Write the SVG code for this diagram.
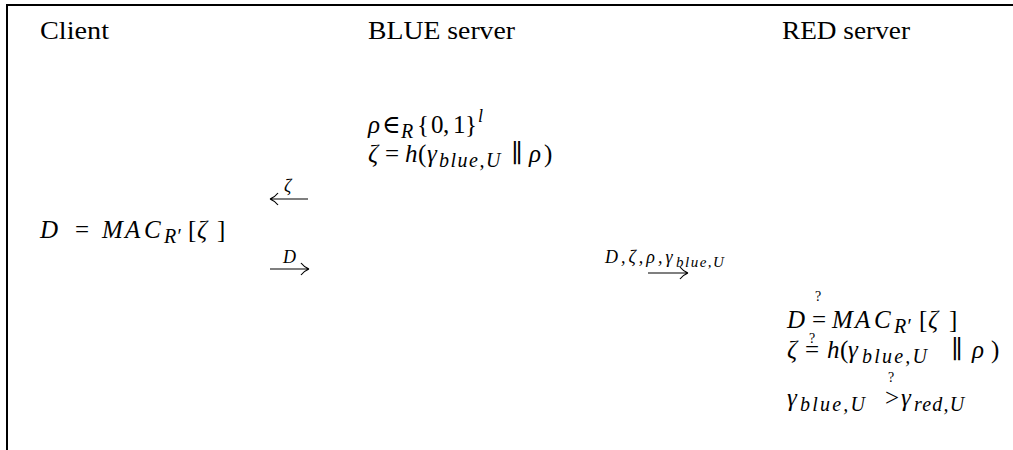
<svg xmlns="http://www.w3.org/2000/svg" width="1013" height="450" viewBox="0 0 1013 450">
<style>
text{font-family:"Liberation Serif","DejaVu Serif",serif;fill:#000}
.hd{font-size:25px}
.m{font-size:25px}
.i{font-style:italic}
.s{font-size:20px}
.l{font-size:18px}
.ss{font-size:15px}
.q{font-size:14px;font-style:normal}
.ln{stroke:#000;stroke-width:1.2;fill:none}
.fr{stroke:#000;stroke-width:2;fill:none}
</style>
<rect width="1013" height="450" fill="#fff"/>
<path class="fr" d="M7 450 V5 H1013"/>
<g id="client">
<text class="hd" x="40" y="39" textLength="69" lengthAdjust="spacingAndGlyphs">Client</text>
<text class="m"><tspan class="i" x="40" y="238">D</tspan><tspan x="75" y="238">=</tspan><tspan class="i" x="102" y="238">M</tspan><tspan class="i" x="125" y="238">A</tspan><tspan class="i" x="144" y="238">C</tspan><tspan class="s i" x="164" y="243">R′</tspan><tspan x="188" y="238">[</tspan><tspan class="i" x="197" y="238">ζ</tspan><tspan x="217" y="238">]</tspan></text>
</g>
<g id="blue">
<text class="hd" x="368" y="39" textLength="147" lengthAdjust="spacingAndGlyphs">BLUE server</text>
<text class="m"><tspan class="i" x="368" y="133">ρ</tspan><tspan x="382" y="133">∈</tspan><tspan class="s i" x="401" y="138">R</tspan><tspan x="417" y="133">{</tspan><tspan x="431" y="133">0</tspan><tspan x="443" y="133">,</tspan><tspan x="453" y="133">1</tspan><tspan x="465" y="133">}</tspan><tspan class="l i" x="478" y="122">l</tspan></text>
<text class="m"><tspan class="i" x="368" y="162">ζ</tspan><tspan x="385" y="162">=</tspan><tspan class="i" x="405" y="162">h</tspan><tspan x="418" y="162">(</tspan><tspan class="i" x="427" y="162">γ</tspan><tspan class="s i" x="439" y="167" letter-spacing="1.5">blue,U</tspan><tspan x="511" y="162">∥</tspan><tspan class="i" x="529" y="162">ρ</tspan><tspan x="544" y="162">)</tspan></text>
</g>
<g id="red">
<text class="hd" x="782" y="39" textLength="128" lengthAdjust="spacingAndGlyphs">RED server</text>
<text class="m"><tspan class="i" x="787" y="328">D</tspan><tspan class="q" x="815" y="301">?</tspan><tspan x="812" y="328">=</tspan><tspan class="i" x="832" y="328">M</tspan><tspan class="i" x="855" y="328">A</tspan><tspan class="i" x="874" y="328">C</tspan><tspan class="s i" x="894" y="333">R′</tspan><tspan x="919" y="328">[</tspan><tspan class="i" x="928" y="328">ζ</tspan><tspan x="949" y="328">]</tspan></text>
<text class="m"><tspan class="i" x="787" y="358">ζ</tspan><tspan class="q" x="809" y="343">?</tspan><tspan x="805" y="358">=</tspan><tspan class="i" x="827" y="358">h</tspan><tspan x="840" y="358">(</tspan><tspan class="i" x="848" y="358">γ</tspan><tspan class="s i" x="862" y="363" letter-spacing="2.2">blue,U</tspan><tspan x="951" y="358">∥</tspan><tspan class="i" x="972" y="358">ρ</tspan><tspan x="991" y="358">)</tspan></text>
<text class="m"><tspan class="i" x="787" y="406">γ</tspan><tspan class="s i" x="800" y="411" letter-spacing="2.2">blue,U</tspan><tspan class="q" x="888" y="382">?</tspan><tspan x="885" y="406">&gt;</tspan><tspan class="i" x="901" y="406">γ</tspan><tspan class="s i" x="914" y="411" letter-spacing="1.2">red,U</tspan></text>
</g>
<g id="connectors">
<path class="ln" d="M270 199 H308 M270 199 q5 -2 8 -6 M270 199 q5 2 8 6"/>
<text class="l i" x="284" y="192">ζ</text>
<path class="ln" d="M270 269 H309 M309 269 q-5 -2 -8 -6 M309 269 q-5 2 -8 6"/>
<text class="l i" x="283" y="263">D</text>
<path class="ln" d="M648 273 H688 M688 273 q-5 -2 -8 -6 M688 273 q-5 2 -8 6"/>
<text class="l i"><tspan x="605" y="263" letter-spacing="3">D,ζ,ρ,γ</tspan><tspan class="ss" x="676" y="267" letter-spacing="1.5">blue,U</tspan></text>
</g>
</svg>
